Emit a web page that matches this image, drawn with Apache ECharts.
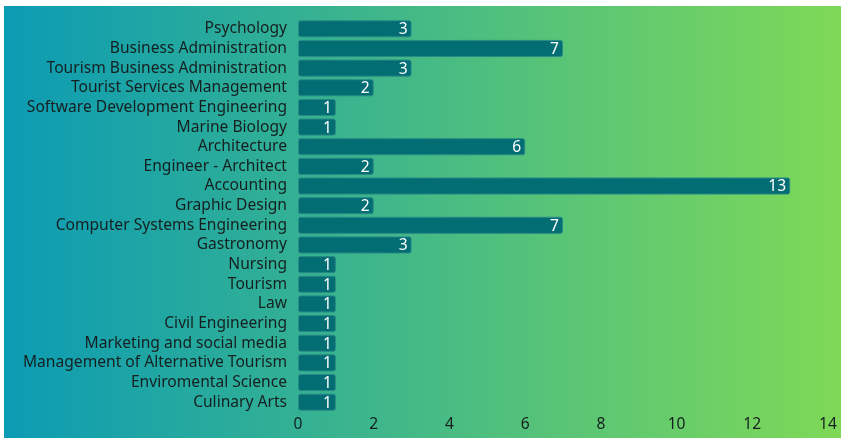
<!DOCTYPE html>
<html><head><meta charset="utf-8">
<script src="https://cdn.jsdelivr.net/npm/echarts@6/dist/echarts.min.js"></script>
<style>html,body{margin:0;padding:0;background:#fff;}#c{width:841px;height:439px;}</style>
</head><body><div id="c"></div>
<script>
const categories = ["Psychology","Business Administration","Tourism Business Administration","Tourist Services Management","Software Development Engineering","Marine Biology","Architecture","Engineer - Architect","Accounting","Graphic Design","Computer Systems Engineering","Gastronomy","Nursing","Tourism","Law","Civil Engineering","Marketing and social media","Management of Alternative Tourism","Enviromental Science","Culinary Arts"];
const values = [3,7,3,2,1,1,6,2,13,2,7,3,1,1,1,1,1,1,1,1];
const xTicks = [0,2,4,6,8,10,12,14];

const chart = echarts.init(document.getElementById('c'), null, {renderer:'canvas'});
chart.setOption({
  animation:false,
  graphic:[{type:'rect',z:-10,silent:true,shape:{x:4,y:6,width:837,height:432},
    style:{fill:new echarts.graphic.LinearGradient(0,0,1,0,[{offset:0,color:'#0b9bb4'},{offset:1,color:'#7fd957'}])}}],
  grid:{left:298,right:13,top:19,bottom:27,containLabel:false},
  xAxis:{type:'value',min:xTicks[0],max:xTicks[xTicks.length-1],interval:2,
    axisLine:{show:false},axisTick:{show:false},splitLine:{show:false},
    axisLabel:{color:'#161f1f',fontFamily:'Noto Sans',fontSize:15.6,margin:5}},
  yAxis:{type:'category',data:categories,inverse:true,
    axisLine:{show:false},axisTick:{show:false},
    axisLabel:{color:'#161f1f',fontFamily:'Noto Sans',fontSize:15.6,margin:11,interval:0,hideOverlap:false}},
  series:[{type:'bar',data:values,barCategoryGap:'13%',
    itemStyle:{color:'#036d74',borderColor:'#2a8a86',borderWidth:1,borderRadius:2},
    label:{show:true,position:'insideRight',color:'#ffffff',fontFamily:'Noto Sans',fontSize:15.6,offset:[1,1]}}]
});
</script></body></html>
